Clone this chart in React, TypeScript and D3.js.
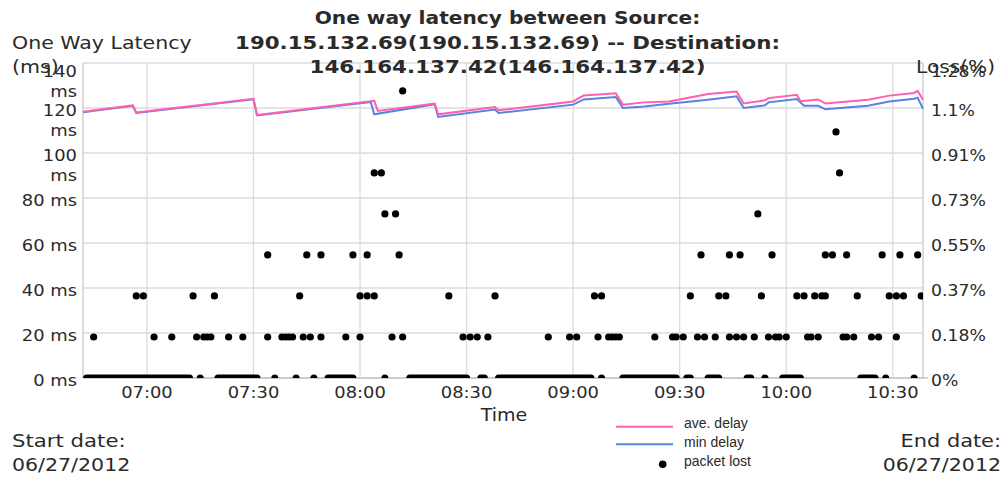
import React from "react";
import * as d3 from "d3";

const width = 1005;
const height = 477;
const plot = { left: 83, right: 923, top: 63, bottom: 378 };
const pink = "#ff5fae";
const blue = "#5b82e0";
const ink = "#2a2a2a";
const font = "DejaVu Sans";

const titleLines = [
  "One way latency between Source:",
  "190.15.132.69(190.15.132.69) -- Destination:",
  "146.164.137.42(146.164.137.42)"
];
const titleStretch = [1.12, 1.185, 1.19];

const timeDomain = ["06:42:00", "10:38:30"];
const timeTicks = ["07:00", "07:30", "08:00", "08:30", "09:00", "09:30", "10:00", "10:30"];

const latencyTicks = [0, 20, 40, 60, 80, 100, 120, 140];
const latencyTickLabels = [["0 ms"], ["20 ms"], ["40 ms"], ["60 ms"], ["80 ms"], ["100", "ms"], ["120", "ms"], ["140", "ms"]];
const lossMax = 1.28;
const lossTickLabels = ["0%", "0.18%", "0.37%", "0.55%", "0.73%", "0.91%", "1.1%", "1.28%"];

// [time, ms]
const aveDelay: [string, number][] = [
  ["06:42", 118.3], ["06:56", 121.2], ["06:57", 118.0], ["07:30", 124.1], ["07:31", 116.9],
  ["08:04", 123.2], ["08:05", 118.7], ["08:21", 122.0], ["08:22", 117.2], ["08:38", 120.4],
  ["08:39", 119.0], ["09:00", 122.9], ["09:03", 125.6], ["09:12", 126.5], ["09:14", 121.5],
  ["09:20", 122.5], ["09:27", 122.9], ["09:38", 126.2], ["09:46", 127.3], ["09:48", 122.0],
  ["09:54", 123.4], ["09:55", 124.4], ["10:03", 125.9], ["10:04", 123.0], ["10:09", 123.8],
  ["10:11", 122.0], ["10:23", 123.7], ["10:29", 125.5], ["10:36", 126.7], ["10:37", 127.6],
  ["10:38:30", 123.7]
];
const minDelay: [string, number][] = [
  ["06:42", 118.1], ["06:56", 121.0], ["06:57", 117.8], ["07:30", 123.9], ["07:31", 116.7],
  ["08:03", 122.7], ["08:04", 117.2], ["08:21", 121.7], ["08:22", 116.0], ["08:38", 119.3],
  ["08:39", 117.8], ["09:00", 121.5], ["09:03", 123.8], ["09:12", 124.9], ["09:14", 120.0],
  ["09:20", 120.7], ["09:27", 121.9], ["09:38", 123.7], ["09:46", 125.2], ["09:48", 120.0],
  ["09:54", 121.2], ["09:55", 122.5], ["10:03", 124.0], ["10:05", 121.0], ["10:09", 121.0],
  ["10:11", 119.4], ["10:23", 121.0], ["10:29", 122.9], ["10:36", 124.1], ["10:37", 124.6],
  ["10:38:30", 119.6]
];

// packet loss (%) per measurement, grouped by level
const lost017 = ["06:45", "07:02", "07:07", "07:14", "07:16", "07:17", "07:18", "07:23", "07:27", "07:34",
  "07:38", "07:39", "07:40", "07:41", "07:44", "07:46", "07:49", "07:56", "08:00", "08:09", "08:12",
  "08:29", "08:31", "08:33", "08:36", "08:53", "08:59", "09:01", "09:07", "09:10", "09:11", "09:12",
  "09:13", "09:23", "09:28", "09:29", "09:31", "09:35", "09:37", "09:40", "09:44", "09:46", "09:48",
  "09:51", "09:55", "09:57", "09:58", "10:00", "10:06", "10:07", "10:09", "10:16", "10:17", "10:19",
  "10:24", "10:26", "10:31"];
const lost033 = ["06:57", "06:59", "07:13", "07:19", "07:43", "08:00", "08:02", "08:04", "08:25", "08:38",
  "09:06", "09:08", "09:33", "09:41", "09:43", "09:53", "10:03", "10:05", "10:08", "10:10", "10:11",
  "10:20", "10:29", "10:31", "10:33", "10:38"];
const lost050 = ["07:34", "07:45", "07:49", "07:58", "08:02", "08:11", "09:36", "09:44", "09:47", "09:56",
  "10:11", "10:13", "10:17", "10:27", "10:32", "10:37"];
const lost067 = ["08:07", "08:10", "09:52"];
const lost083 = ["08:04", "08:06", "10:15"];
const lost100 = ["10:14"];
const lost117 = ["08:12"];
// stretches with no loss (0%)
const noLossRuns: [string, string][] = [
  ["06:43", "07:12"], ["07:15", "07:15"], ["07:20", "07:31"], ["07:36", "07:36"], ["07:42", "07:42"],
  ["07:47", "07:47"], ["07:51", "07:58"], ["08:07", "08:07"], ["08:14", "08:30"], ["08:34", "08:35"],
  ["08:39", "09:05"], ["09:08", "09:08"], ["09:14", "09:29"], ["09:32", "09:33"], ["09:38", "09:41"],
  ["09:49", "09:50"], ["09:54", "09:54"], ["09:59", "10:04"], ["10:21", "10:25"], ["10:28", "10:28"],
  ["10:36", "10:36"]
];

const parseTime = (s: string) => d3.timeParse(s.length > 5 ? "%H:%M:%S" : "%H:%M")(s) as Date;

// text stretched a little horizontally, like the original
function SText({ x, y, anchor = "start", size = 16, weight = "normal", sx = 1.12, family = font, children }: any) {
  return (
    <text
      transform={`translate(${x},${y}) scale(${sx},1)`}
      textAnchor={anchor}
      fontSize={size}
      fontWeight={weight}
      fontFamily={family}
      fill={ink}
    >
      {children}
    </text>
  );
}

export default function App() {
  const x = d3.scaleTime().domain(timeDomain.map(parseTime)).range([plot.left, plot.right]);
  const y = d3.scaleLinear().domain([0, 140]).range([plot.bottom, plot.top]);
  const yLoss = d3.scaleLinear().domain([0, lossMax]).range([plot.bottom, plot.top]);
  const lineGen = d3
    .line<[string, number]>()
    .x(d => x(parseTime(d[0])))
    .y(d => y(d[1]));

  const lossLevels = [
    { pct: 1 / 6, times: lost017 },
    { pct: 2 / 6, times: lost033 },
    { pct: 3 / 6, times: lost050 },
    { pct: 4 / 6, times: lost067 },
    { pct: 5 / 6, times: lost083 },
    { pct: 1, times: lost100 },
    { pct: 7 / 6, times: lost117 }
  ];
  const lossTicks = lossTickLabels.map((_, i) => (lossMax * i) / (lossTickLabels.length - 1));

  return (
    <svg width={width} height={height} style={{ position: "absolute", left: 0, top: 0, background: "#fff" }}>
      <defs>
        <clipPath id="plotClip">
          <rect x={plot.left} y={plot.top} width={plot.right - plot.left} height={plot.bottom - plot.top} />
        </clipPath>
      </defs>

      {/* grid */}
      {latencyTicks.map(t => (
        <line key={"h" + t} x1={plot.left} x2={plot.right} y1={y(t)} y2={y(t)} stroke="#e4e4e4" strokeWidth={2} />
      ))}
      {timeTicks.map(t => (
        <line key={"v" + t} x1={x(parseTime(t))} x2={x(parseTime(t))} y1={plot.top} y2={plot.bottom} stroke="#dcdcdc" strokeWidth={1.3} />
      ))}
      <line x1={plot.left} x2={plot.left} y1={plot.top} y2={plot.bottom} stroke="#cfcfcf" strokeWidth={1.5} />
      <line x1={plot.right} x2={plot.right} y1={plot.top} y2={plot.bottom} stroke="#cfcfcf" strokeWidth={1.5} />
      <line x1={plot.left} x2={plot.right + 5} y1={plot.bottom} y2={plot.bottom} stroke="#c4c4c4" strokeWidth={1.5} />

      {/* packet loss */}
      <g clipPath="url(#plotClip)" fill="#000">
        {noLossRuns.map(([a, b], i) => (
          <line key={"z" + i} x1={x(parseTime(a))} x2={x(parseTime(b))} y1={yLoss(0)} y2={yLoss(0)}
            stroke="#000" strokeWidth={7} strokeLinecap="round" />
        ))}
        {lossLevels.map(l =>
          l.times.map(t => <circle key={l.pct + t} cx={x(parseTime(t))} cy={yLoss(l.pct)} r={3.6} />)
        )}
      </g>

      {/* delays */}
      <path d={lineGen(minDelay) || ""} fill="none" stroke={blue} strokeWidth={2} />
      <path d={lineGen(aveDelay) || ""} fill="none" stroke={pink} strokeWidth={2} />

      {/* left axis */}
      {latencyTicks.map((t, i) => {
        const lines = latencyTickLabels[i];
        const cy = Math.max(y(t) + 2, plot.top + 8.5);
        return lines.map((s, j) => (
          <SText key={"ly" + t + j} x={77} y={cy + 20 * j + 5.8} anchor="end" size={16}>{s}</SText>
        ));
      })}
      {/* right axis */}
      {lossTicks.map((t, i) => (
        <SText key={"ry" + i} x={931} y={Math.max(yLoss(t) + 2, plot.top + 8.5) + 5.8} size={16} sx={1.08}>
          {lossTickLabels[i]}
        </SText>
      ))}
      {/* x axis */}
      {timeTicks.map(t => (
        <SText key={"xt" + t} x={x(parseTime(t))} y={397.5} anchor="middle" size={16}>{t}</SText>
      ))}
      <SText x={504} y={421} anchor="middle" size={17} sx={1.12}>Time</SText>

      {/* titles */}
      {titleLines.map((s, i) => (
        <SText key={"t" + i} x={507.5} y={24.3 + 24.5 * i} anchor="middle" size={18} weight="bold" sx={titleStretch[i]}>{s}</SText>
      ))}
      <SText x={12} y={48.5} size={18} sx={1.14}>One Way Latency</SText>
      <SText x={12} y={72.5} size={18} sx={1.14}>(ms)</SText>
      <SText x={916} y={72.5} size={18} sx={1.12}>Loss(%)</SText>

      <SText x={12} y={446.5} size={18} sx={1.18}>Start date:</SText>
      <SText x={12} y={470.5} size={18} sx={1.14}>06/27/2012</SText>
      <SText x={1001} y={446.5} anchor="end" size={18} sx={1.16}>End date:</SText>
      <SText x={1001} y={470.5} anchor="end" size={18} sx={1.14}>06/27/2012</SText>

      {/* legend */}
      <g fontFamily="Liberation Sans" fontSize={14} fill={ink}>
        <line x1={616} x2={673} y1={426.7} y2={426.7} stroke={pink} strokeWidth={2} />
        <text x={684} y={428.3}>ave. delay</text>
        <line x1={616} x2={673} y1={444.3} y2={444.3} stroke={blue} strokeWidth={2} />
        <text x={684} y={446.5}>min delay</text>
        <circle cx={662.7} cy={464.3} r={3.8} fill="#000" />
        <text x={684} y={465.5}>packet lost</text>
      </g>
    </svg>
  );
}
